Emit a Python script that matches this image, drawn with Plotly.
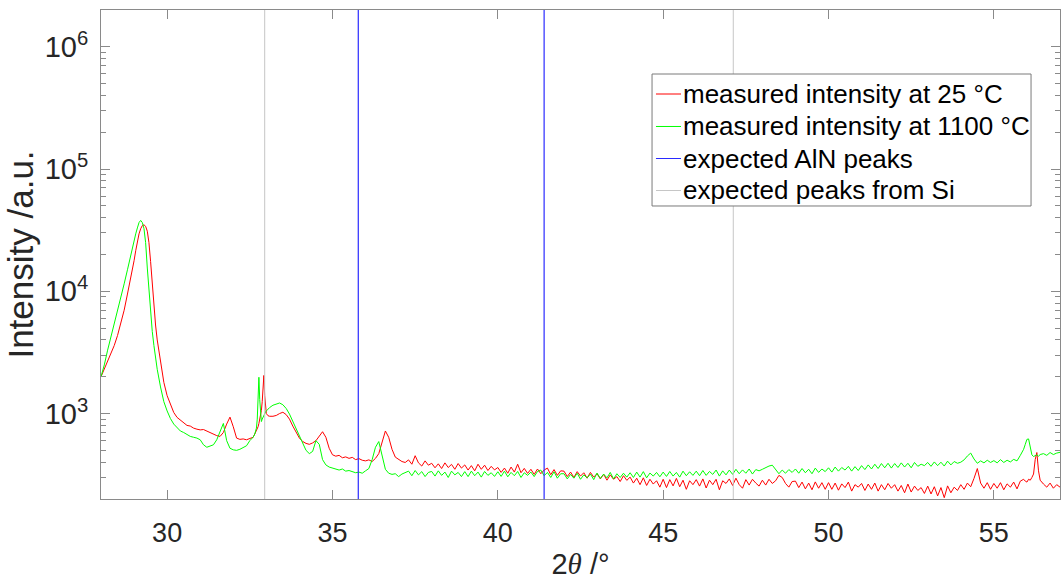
""" XRD pattern of AlN on Si at 25 °C and 1100 °C. """

import plotly.graph_objects as go

# 2theta grid (degrees)
two_theta = [
    28.0, 28.1, 28.2, 28.3, 28.4, 28.5, 28.6, 28.7, 28.8, 28.85,
    28.9, 28.95, 29.0, 29.05, 29.1, 29.15, 29.2, 29.25, 29.3, 29.35,
    29.4, 29.45, 29.5, 29.55, 29.6, 29.65, 29.7, 29.8, 29.9, 30.0,
    30.1, 30.2, 30.3, 30.4, 30.5, 30.6, 30.7, 30.8, 30.9,
    31.0, 31.1, 31.2, 31.3, 31.4, 31.5, 31.6, 31.7, 31.8, 31.9,
    32.0, 32.1, 32.2, 32.3, 32.4, 32.5, 32.6,
    32.65, 32.7, 32.725, 32.75, 32.775, 32.8, 32.825, 32.85, 32.875, 32.9,
    32.925, 32.95, 32.975, 33.0, 33.05, 33.1,
    33.2, 33.3, 33.4, 33.5, 33.6, 33.7, 33.8, 33.9,
    34.0, 34.1, 34.2, 34.3, 34.4, 34.5, 34.6, 34.7, 34.8, 34.9,
    35.0, 35.1, 35.2, 35.3, 35.4, 35.5, 35.6, 35.7, 35.8, 35.9,
    36.0, 36.1, 36.2, 36.3, 36.4, 36.5, 36.6, 36.7, 36.8, 36.9,
    37.0, 37.1, 37.2, 37.3, 37.4, 37.5, 37.6, 37.7, 37.8, 37.9,
    38.0, 38.1, 38.2, 38.3, 38.4, 38.5, 38.6, 38.7, 38.8, 38.9,
    39.0, 39.1, 39.2, 39.3, 39.4, 39.5, 39.6, 39.7, 39.8, 39.9,
    40.0, 40.1, 40.2, 40.3, 40.4, 40.5, 40.6, 40.7, 40.8, 40.9,
    41.0, 41.1, 41.2, 41.3, 41.4, 41.5, 41.6, 41.7, 41.8, 41.9,
    42.0, 42.1, 42.2, 42.3, 42.4, 42.5, 42.6, 42.7, 42.8, 42.9,
    43.0, 43.1, 43.2, 43.3, 43.4, 43.5, 43.6, 43.7, 43.8, 43.9,
    44.0, 44.1, 44.2, 44.3, 44.4, 44.5, 44.6, 44.7, 44.8, 44.9,
    45.0, 45.1, 45.2, 45.3, 45.4, 45.5, 45.6, 45.7, 45.8, 45.9,
    46.0, 46.1, 46.2, 46.3, 46.4, 46.5, 46.6, 46.7, 46.8, 46.9,
    47.0, 47.1, 47.2, 47.3, 47.4, 47.5, 47.6, 47.7, 47.8, 47.9,
    48.0, 48.1, 48.2, 48.3, 48.4, 48.5, 48.6, 48.7, 48.8, 48.9,
    49.0, 49.1, 49.2, 49.3, 49.4, 49.5, 49.6, 49.7, 49.8, 49.9,
    50.0, 50.1, 50.2, 50.3, 50.4, 50.5, 50.6, 50.7, 50.8, 50.9,
    51.0, 51.1, 51.2, 51.3, 51.4, 51.5, 51.6, 51.7, 51.8, 51.9,
    52.0, 52.1, 52.2, 52.3, 52.4, 52.5, 52.6, 52.7, 52.8, 52.9,
    53.0, 53.1, 53.2, 53.3, 53.4, 53.5, 53.6, 53.7, 53.8, 53.9,
    54.0, 54.1, 54.2, 54.3, 54.4, 54.5, 54.6, 54.7, 54.8, 54.9,
    55.0, 55.1, 55.2, 55.3, 55.4, 55.5, 55.6, 55.7, 55.8, 55.9,
    55.95, 56.0, 56.05, 56.1, 56.15, 56.2, 56.25, 56.3, 56.35, 56.4,
    56.5, 56.6, 56.7, 56.8, 56.9, 57.0,
]

# measured intensity at 25 °C (a.u.)
int_25c = [
    2000, 2300, 2650, 3050, 3600, 4350, 5500, 7000, 9500, 11000,
    12800, 15000, 17800, 21500, 25500, 29500, 32500, 34500, 35000, 34000,
    31000, 25000, 17500, 11000, 7500, 5300, 4000, 2600, 1800, 1400,
    1170, 1020, 930, 880, 845, 800, 790, 760, 745,
    735, 740, 720, 700, 675, 660, 650, 700, 820, 935,
    780, 630, 615, 620, 610, 625, 640,
    680, 720, 750, 780, 830, 900, 980, 1060, 1250, 1700,
    2050, 1400, 1060, 1000, 960, 950,
    950, 965, 1000, 1025, 980, 900, 790, 700,
    630, 590, 570, 560, 575, 600, 650, 710, 640, 520,
    460, 448, 455, 435, 442, 430, 438, 420, 428, 415,
    410, 418, 405, 430, 470, 580, 720, 640, 510, 440,
    420, 405, 398, 418, 385, 452, 395, 372, 410, 378,
    392, 360, 388, 355, 395, 362, 384, 350, 390, 358,
    380, 345, 375, 340, 385, 350, 378, 342, 370, 346,
    362, 330, 358, 325, 365, 332, 385, 328, 356, 324,
    350, 318, 352, 322, 345, 358, 316, 348, 312, 340,
    338, 305, 332, 300, 335, 308, 328, 296, 330, 302,
    322, 292, 318, 285, 315, 290, 305, 278, 310, 284,
    302, 270, 296, 262, 298, 258, 290, 265, 282, 250,
    290, 248, 288, 256, 295, 252, 285, 240, 282, 262,
    288, 255, 292, 246, 285, 262, 290, 238, 282, 268,
    292, 258, 296, 262, 245, 288, 260, 290, 270, 255,
    285, 260, 290, 268, 282, 312, 300, 268, 250, 278,
    280, 248, 275, 242, 270, 238, 276, 245, 272, 240,
    272, 240, 270, 236, 266, 248, 275, 232, 262, 250,
    268, 235, 265, 240, 270, 232, 262, 238, 268, 245,
    262, 232, 258, 225, 265, 228, 255, 235, 248, 222,
    255, 220, 252, 212, 248, 205, 256, 225, 250, 235,
    262, 240, 270, 252, 295, 355, 270, 245, 272, 240,
    268, 245, 272, 238, 266, 250, 275, 242, 280, 290,
    280, 275, 290, 285, 300, 320, 420, 480, 340, 285,
    265, 250, 270, 245, 262, 250,
]

# measured intensity at 1100 °C (a.u.)
int_1100c = [
    2000, 2500, 3300, 4200, 5300, 6900, 8900, 11500, 15000, 17300,
    19800, 22700, 26000, 29500, 33000, 36500, 38000, 36500, 32500, 25000,
    15500, 9800, 6500, 4700, 3600, 2800, 2300, 1650, 1250, 1050,
    910, 820, 760, 720, 700, 670, 650, 640, 630,
    610, 555, 530, 540, 555, 610, 700, 830, 600, 520,
    505, 500, 510, 530, 545, 600, 640,
    680, 760, 900, 1500, 1980, 1300, 900, 860, 900, 940,
    980, 1000, 1030, 1050, 1090, 1120,
    1170, 1200, 1220, 1180, 1100, 990, 860, 740,
    650, 560, 500, 470, 490, 600, 560, 420, 380, 365,
    358, 350, 345, 352, 338, 342, 335, 328, 332, 325,
    340, 355, 420, 530, 590, 450, 350, 325, 318, 322,
    305, 320, 330, 338, 310, 342, 315, 335, 305, 330,
    336, 308, 340, 312, 332, 300, 338, 315, 330, 305,
    335, 305, 338, 310, 332, 302, 336, 312, 328, 306,
    334, 306, 338, 304, 330, 310, 336, 300, 328, 312,
    332, 305, 336, 345, 310, 330, 300, 334, 296, 322,
    322, 292, 318, 296, 325, 290, 315, 298, 320, 288,
    326, 295, 320, 298, 330, 292, 322, 300, 325, 302,
    328, 300, 332, 302, 335, 298, 326, 308, 330, 304,
    332, 306, 336, 308, 330, 302, 338, 310, 334, 312,
    338, 310, 342, 312, 336, 318, 345, 308, 340, 315,
    345, 318, 350, 322, 346, 325, 352, 320, 348, 340,
    350, 362, 372, 378, 352, 322, 345, 325, 348, 330,
    352, 325, 355, 328, 350, 322, 358, 330, 352, 335,
    360, 332, 365, 338, 362, 345, 370, 338, 368, 342,
    375, 348, 380, 352, 385, 355, 390, 360, 392, 358,
    390, 362, 395, 365, 392, 360, 398, 370, 385, 375,
    398, 370, 402, 375, 400, 372, 408, 380, 405, 392,
    400, 418, 450, 475, 425, 392, 410, 395, 415, 398,
    412, 395, 420, 398, 415, 402, 422, 410, 455, 510,
    560, 615, 620, 540, 460, 445, 455, 460, 448, 462,
    470, 455, 480, 462, 475, 482,
]

# reference peak positions (degrees 2theta)
aln_peaks = [35.78, 41.40]
si_peaks = [32.95, 47.12]

legend_names = ["measured intensity at 25 °C", "measured intensity at 1100 °C",
                "expected AlN peaks", "expected peaks from Si"]

RED, GREEN, BLUE, GREY = "#ff0000", "#00ff00", "#2a2aff", "#c6c6c6"
FONT = "Liberation Sans, Arial, Helvetica, sans-serif"
AXIS_GREY = "#8a8a8a"
TEXT = "#262626"

fig = go.Figure()
fig.add_trace(go.Scatter(x=two_theta, y=int_25c, mode="lines",
                         line=dict(color=RED, width=1), name=legend_names[0]))
fig.add_trace(go.Scatter(x=two_theta, y=int_1100c, mode="lines",
                         line=dict(color=GREEN, width=1), name=legend_names[1]))
for p in aln_peaks:
    fig.add_vline(x=p, line=dict(color=BLUE, width=1.2))
for p in si_peaks:
    fig.add_vline(x=p, line=dict(color=GREY, width=1))

# boxed legend in the upper right, MATLAB style
box_x0, box_x1, box_y0, box_y1 = 0.5746, 0.9698, 0.5992, 0.8691
row_y = [0.8282, 0.7618, 0.6963, 0.6309]
fig.add_shape(type="rect", xref="paper", yref="paper",
              x0=box_x0, x1=box_x1, y0=box_y0, y1=box_y1,
              line=dict(color="#7a7a7a", width=1), fillcolor="white",
              layer="above")
for name, colour, yy in zip(legend_names, [RED, GREEN, BLUE, GREY], row_y):
    fig.add_shape(type="line", xref="paper", yref="paper",
                  x0=0.5787, x1=0.6048, y0=yy, y1=yy,
                  line=dict(color=colour, width=1), layer="above")
    fig.add_annotation(xref="paper", yref="paper", x=0.6048, y=yy,
                       xanchor="left", yanchor="middle", showarrow=False,
                       text=name, font=dict(size=26, color="black",
                                            family=FONT))

minor_vals = [m * 10 ** e for e in range(2, 7) for m in range(2, 10)]

fig.update_xaxes(range=[28, 57], tickvals=[30, 35, 40, 45, 50, 55],
                 ticks="inside", ticklen=9, tickcolor=AXIS_GREY,
                 showline=True, linecolor=AXIS_GREY, linewidth=1,
                 mirror="ticks", showgrid=False, zeroline=False,
                 automargin=False, ticklabelstandoff=10,
                 tickfont=dict(size=27, color=TEXT, family=FONT),
                 title=dict(text="2<i><span style='font-family:Liberation Serif'>θ</span></i> /°",
                            standoff=12,
                            font=dict(size=29, color=TEXT, family=FONT)))
fig.update_yaxes(type="log", range=[2.30103, 6.30103],
                 tickvals=[1e3, 1e4, 1e5, 1e6],
                 ticktext=["10<sup>3</sup>", "10<sup>4</sup>",
                           "10<sup>5</sup>", "10<sup>6</sup>"],
                 ticks="inside", ticklen=9, tickcolor=AXIS_GREY,
                 minor=dict(tickvals=minor_vals, ticks="inside", ticklen=5,
                            tickcolor=AXIS_GREY, showgrid=False),
                 showline=True, linecolor=AXIS_GREY, linewidth=1,
                 mirror="ticks", showgrid=False, zeroline=False,
                 automargin=False, ticklabelstandoff=6,
                 tickfont=dict(size=29, color=TEXT, family=FONT),
                 title=dict(text="Intensity /a.u.", standoff=0,
                            font=dict(size=35, color=TEXT, family=FONT)))

fig.update_layout(
    width=1061, height=580,
    margin=dict(l=101, r=1, t=10, b=81),
    paper_bgcolor="white", plot_bgcolor="white",
    font=dict(family=FONT, color=TEXT),
    showlegend=False,
)

# the page's default 8px body margin would push the figure off the window
fig.write_html("out.html", config={"displayModeBar": False},
               post_script="document.body.style.margin = '0';")
